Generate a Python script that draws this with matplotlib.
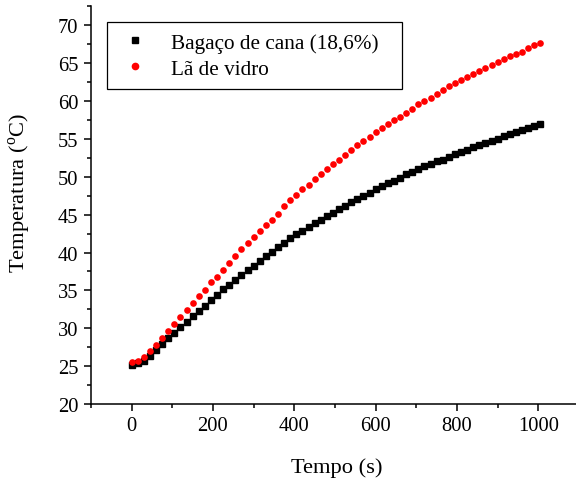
import numpy as np
import matplotlib
matplotlib.use("Agg")
import matplotlib.pyplot as plt
from matplotlib.ticker import MultipleLocator

plt.rcParams["font.family"] = ["Liberation Serif", "DejaVu Serif"]
plt.rcParams["mathtext.fontset"] = "custom"
plt.rcParams["mathtext.rm"] = "Liberation Serif"

# Time (s), one reading every 15 s
tempo = np.arange(0, 1006, 15)

bagaco = [25.12, 25.38, 25.74, 26.40, 27.07, 27.86, 28.66, 29.37, 30.12, 30.87,
          31.62, 32.33, 32.95, 33.70, 34.40, 35.16, 35.73, 36.40, 37.06, 37.68,
          38.25, 38.95, 39.58, 40.11, 40.73, 41.22, 41.88, 42.41, 42.85, 43.42,
          43.91, 44.35, 44.80, 45.28, 45.81, 46.21, 46.65, 47.10, 47.45, 47.93,
          48.33, 48.73, 49.12, 49.50, 49.84, 50.32, 50.63, 50.98, 51.43, 51.74,
          52.04, 52.27, 52.62, 52.97, 53.29, 53.59, 53.95, 54.26, 54.52, 54.79,
          55.05, 55.36, 55.68, 55.89, 56.15, 56.42, 56.74, 56.95]

la_vidro = [25.52, 25.70, 26.22, 27.00, 27.82, 28.72, 29.63, 30.60, 31.45, 32.35,
            33.32, 34.20, 35.07, 36.05, 36.80, 37.66, 38.68, 39.60, 40.46, 41.26,
            42.12, 42.85, 43.67, 44.35, 45.15, 46.12, 46.92, 47.63, 48.33, 48.91,
            49.71, 50.32, 51.03, 51.65, 52.27, 52.89, 53.50, 54.26, 54.79, 55.32,
            55.94, 56.47, 56.95, 57.50, 57.93, 58.41, 58.90, 59.56, 60.05, 60.45,
            60.98, 61.51, 62.04, 62.44, 62.79, 63.18, 63.58, 64.03, 64.43, 64.83,
            65.17, 65.53, 65.93, 66.23, 66.55, 66.99, 67.35, 67.69]

fig = plt.figure(figsize=(5.76, 4.81), dpi=100)
ax = fig.add_axes([91 / 576, 76 / 481, 488 / 576, 398.3 / 481])

ax.plot(tempo, bagaco, linestyle="none", marker="s", markersize=4.0,
        color="black", label="Bagaço de cana (18,6%)")
ax.plot(tempo, la_vidro, linestyle="none", marker="o", markersize=4.8,
        color="#ff0000", markeredgewidth=0, label="Lã de vidro")

ax.set_xlim(-100, 1100)
ax.set_ylim(20, 72.6)
ax.xaxis.set_major_locator(MultipleLocator(200))
ax.xaxis.set_minor_locator(MultipleLocator(100))
ax.yaxis.set_major_locator(MultipleLocator(5))
ax.yaxis.set_minor_locator(MultipleLocator(2.5))

for side in ("top", "right"):
    ax.spines[side].set_visible(False)
for side in ("left", "bottom"):
    ax.spines[side].set_linewidth(1.1)

ax.tick_params(which="major", direction="out", length=5, width=1.1,
               labelsize=14.8, pad=4)
ax.tick_params(which="minor", direction="out", length=3, width=1.1)

ax.set_xlabel("Tempo (s)", fontsize=16.2)
ax.set_ylabel("Temperatura ($^{\\rm o}$C)", fontsize=16.2)
ax.xaxis.set_label_coords(0.504, -0.158, transform=ax.transAxes)
ax.yaxis.set_label_coords(-0.145, 0.532, transform=ax.transAxes)
ax.xaxis.label.set_va("center")
ax.yaxis.label.set_va("center")

leg = ax.legend(loc="upper left", bbox_to_anchor=(0.0328, 0.5, 0.6045, 0.459),
                mode="expand", fontsize=15.3, frameon=True, fancybox=False,
                framealpha=1, edgecolor="black", borderpad=0.5,
                handletextpad=0.9, handlelength=1.6, labelspacing=0.3,
                borderaxespad=0, markerscale=1.15)
leg.get_frame().set_linewidth(0.9)

fig.savefig("out.png", dpi=100)
